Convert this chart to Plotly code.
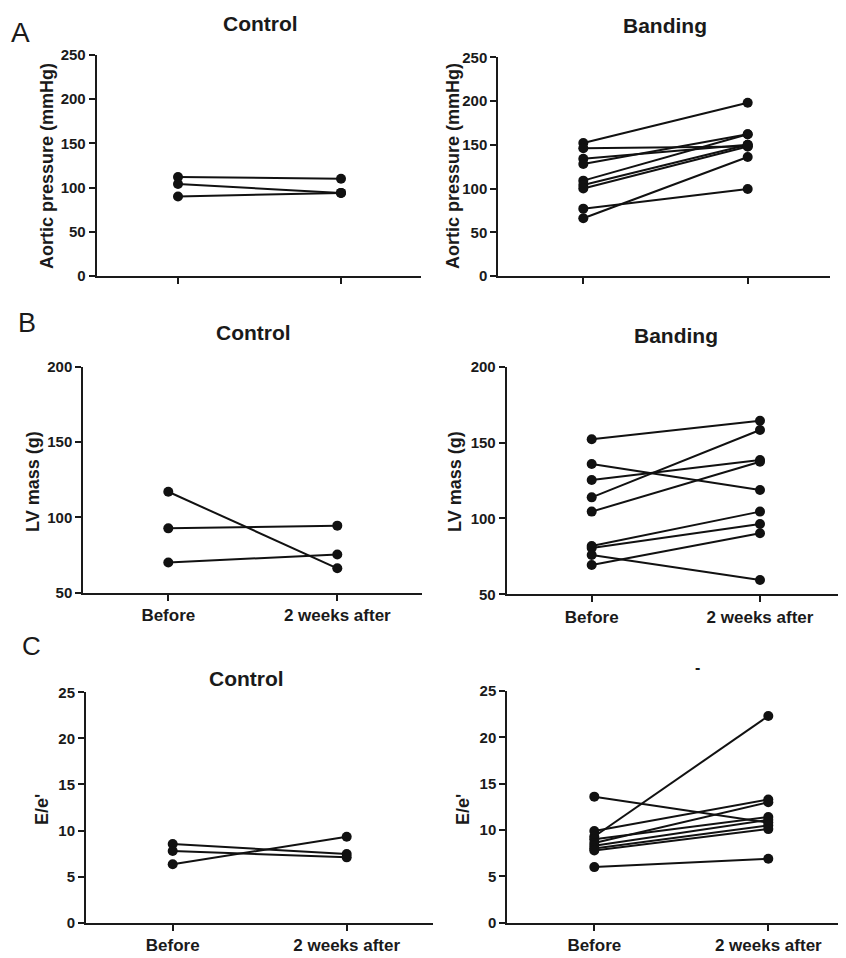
import plotly.graph_objects as go

# page has an 8px body margin, so the figure is 8px smaller than the window
OFF = 8
W, H = 846 - OFF, 958 - OFF

# ---------------- data ----------------
categories = ["Before", "2 weeks after"]

# A: Aortic pressure (mmHg)
ap_ctrl_before = [112, 104, 90]
ap_ctrl_after = [110, 94, 94]
ap_band_before = [152, 146, 134, 128, 109, 104, 100, 77, 66]
ap_band_after = [198, 148, 150, 162, 162, 150, 148, 99.5, 136]

# B: LV mass (g)
lv_ctrl_before = [117, 92.7, 70]
lv_ctrl_after = [66.2, 94.5, 75.4]
lv_band_before = [152.2, 135.9, 125.3, 113.9, 104.5, 81.8, 80.5, 75.9, 69.3]
lv_band_after = [164.4, 118.7, 138.5, 158.3, 137.4, 104.5, 96.3, 59.4, 90.2]

# C: E/e'
ee_ctrl_before = [8.54, 7.78, 6.34]
ee_ctrl_after = [7.45, 7.09, 9.33]
ee_band_before = [13.6, 9.9, 9.3, 9.0, 8.6, 8.3, 8.0, 7.8, 6.0]
ee_band_after = [10.8, 13.3, 22.3, 11.4, 13.0, 11.1, 10.5, 10.1, 6.9]

FONT = "Liberation Sans, Arial, sans-serif"
INK = "#1a1a1a"


def PX(x):
    return min(max((x - OFF) / W, 0), 1)


def PY(y):
    return min(max(1 - (y - OFF) / H, 0), 1)


# panel layout in window pixels
panels = [
    dict(x0=96.7, x1=421, yt=55, yb=276, bx=178, ax=341, yr=[0, 250], dt=50,
         before=ap_ctrl_before, after=ap_ctrl_after, labels=False),
    dict(x0=498.3, x1=830, yt=57.3, yb=276, bx=583.3, ax=747.7, yr=[0, 250], dt=50,
         before=ap_band_before, after=ap_band_after, labels=False),
    dict(x0=83.3, x1=422, yt=366.7, yb=592.7, bx=168.3, ax=337.3, yr=[50, 200], dt=50,
         before=lv_ctrl_before, after=lv_ctrl_after, labels=True),
    dict(x0=506.7, x1=845, yt=366.7, yb=594.3, bx=591.7, ax=760, yr=[50, 200], dt=50,
         before=lv_band_before, after=lv_band_after, labels=True),
    dict(x0=86, x1=433, yt=692.3, yb=922.7, bx=172.7, ax=346.7, yr=[0, 25], dt=5,
         before=ee_ctrl_before, after=ee_ctrl_after, labels=True),
    dict(x0=507.3, x1=846, yt=691, yb=922.7, bx=594.3, ax=768.3, yr=[0, 25], dt=5,
         before=ee_band_before, after=ee_band_after, labels=True),
]

fig = go.Figure()
layout = {}
for i, p in enumerate(panels):
    n = "" if i == 0 else str(i + 1)
    sp = p["ax"] - p["bx"]
    lo = -(p["bx"] - p["x0"]) / sp
    hi = 1 + (p["x1"] - p["ax"]) / sp
    layout["xaxis" + n] = dict(
        domain=[PX(p["x0"]), PX(p["x1"])],
        anchor="y" + n, range=[lo, hi], automargin=False,
        tickvals=[0, 1], ticktext=categories if p["labels"] else ["", ""],
        showline=True, linecolor=INK, linewidth=2,
        ticks="outside", ticklen=6, tickwidth=2, tickcolor=INK,
        showgrid=False, zeroline=False,
        tickfont=dict(family=FONT, size=17, color=INK, weight="bold"),
        fixedrange=True,
    )
    layout["yaxis" + n] = dict(
        domain=[PY(p["yb"]), PY(p["yt"])],
        anchor="x" + n, range=p["yr"], dtick=p["dt"], tick0=0, automargin=False,
        showline=True, linecolor=INK, linewidth=2,
        ticks="outside", ticklen=6, tickwidth=2, tickcolor=INK,
        showgrid=False, zeroline=False,
        tickfont=dict(family=FONT, size=15, color=INK, weight="bold"),
        fixedrange=True,
    )
    for b, a in zip(p["before"], p["after"]):
        fig.add_trace(go.Scatter(
            x=[0, 1], y=[b, a], mode="lines+markers",
            xaxis="x" + n, yaxis="y" + n,
            line=dict(color="#111", width=2),
            marker=dict(color="#111", size=10),
            cliponaxis=False, showlegend=False, hoverinfo="skip",
        ))

annotations = []


def ann(text, x, y, size, bold=True, angle=0):
    annotations.append(dict(
        text=text, x=PX(x), y=PY(y), xref="paper", yref="paper",
        showarrow=False, xanchor="center", yanchor="middle", textangle=angle,
        font=dict(family=FONT, size=size, color=INK,
                  weight="bold" if bold else "normal"),
    ))


# panel titles
ann("Control", 260, 23, 21)
ann("Banding", 665, 25, 21)
ann("Control", 253, 333, 21)
ann("Banding", 676, 335, 21)
ann("Control", 246, 678, 21)
ann("-", 697, 667, 16)

# panel letters
ann("A", 20, 32, 28, bold=False)
ann("B", 27, 323, 27, bold=False)
ann("C", 31, 646, 26, bold=False)

# y-axis titles
ann("Aortic pressure (mmHg)", 47, 166, 18, angle=-90)
ann("Aortic pressure (mmHg)", 453, 166, 18, angle=-90)
ann("LV mass (g)", 33, 482, 18, angle=-90)
ann("LV mass (g)", 455, 482, 18, angle=-90)
ann("E/e'", 42, 810, 18, angle=-90)
ann("E/e'", 463, 810, 18, angle=-90)

fig.update_layout(
    width=W, height=H,
    margin=dict(l=0, r=0, t=0, b=0, autoexpand=False),
    paper_bgcolor="white", plot_bgcolor="white",
    annotations=annotations,
    **layout,
)

fig.write_html("out.html")
